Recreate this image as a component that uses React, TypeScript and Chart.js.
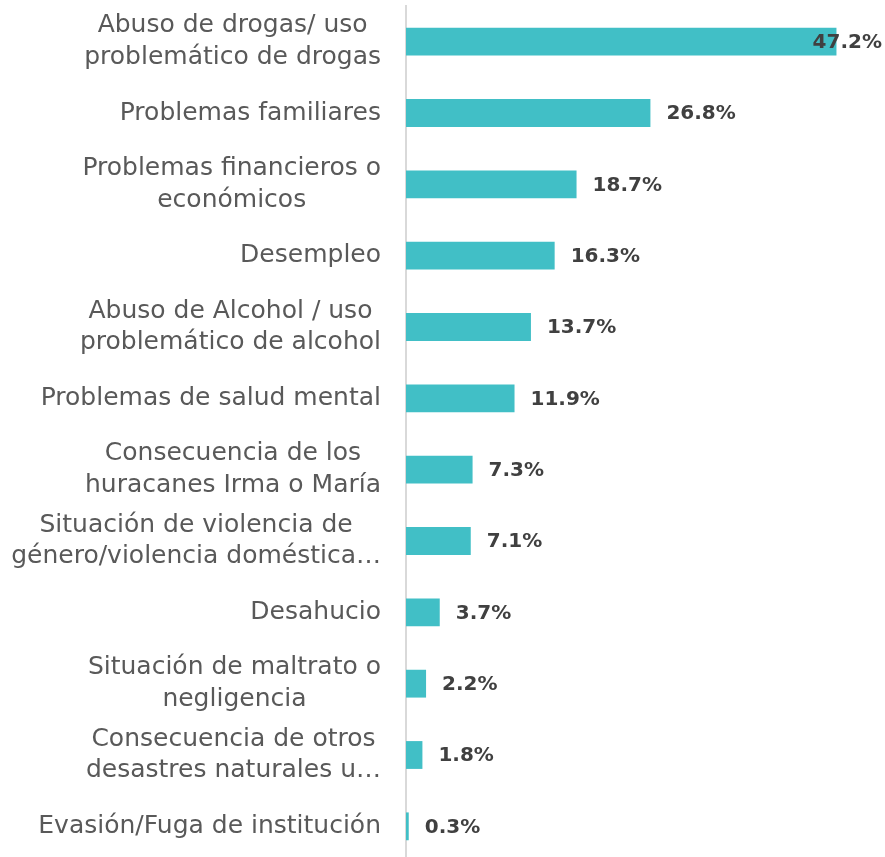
import React, { useEffect, useRef } from "react";
import { Chart, registerables } from "chart.js";

Chart.register(...registerables);

const categories: string[][] = [
  ["Abuso de drogas/ uso", "problemático de drogas"],
  ["Problemas familiares"],
  ["Problemas financieros o", "económicos"],
  ["Desempleo"],
  ["Abuso de Alcohol / uso", "problemático de alcohol"],
  ["Problemas de salud mental"],
  ["Consecuencia de los", "huracanes Irma o María"],
  ["Situación de violencia de", "género/violencia doméstica…"],
  ["Desahucio"],
  ["Situación de maltrato o", "negligencia"],
  ["Consecuencia de otros", "desastres naturales u…"],
  ["Evasión/Fuga de institución"],
];

const values: number[] = [47.2, 26.8, 18.7, 16.3, 13.7, 11.9, 7.3, 7.1, 3.7, 2.2, 1.8, 0.3];

const LABEL_FONT = '25px "DejaVu Sans"';
const VALUE_FONT = 'bold 20px "DejaVu Sans"';

const labelPlugin = {
  id: "customLabels",
  afterDraw(chart: any) {
    const ctx = chart.ctx;
    const yScale = chart.scales.y;
    const area = chart.chartArea;
    ctx.save();
    ctx.font = LABEL_FONT;
    ctx.fillStyle = "#595959";
    ctx.textBaseline = "middle";
    ctx.textAlign = "center";
    const lineH = 31.5;
    categories.forEach((lines, i) => {
      const cy = yScale.getPixelForValue(i);
      const widest = Math.max(...lines.map((l) => ctx.measureText(l).width));
      const right = area.left - 25;
      const cx = right - widest / 2;
      const startY = cy - ((lines.length - 1) * lineH) / 2;
      lines.forEach((l, j) => ctx.fillText(l, cx, startY + j * lineH));
    });
    ctx.font = VALUE_FONT;
    ctx.fillStyle = "#404040";
    ctx.textAlign = "left";
    const meta = chart.getDatasetMeta(0);
    meta.data.forEach((bar: any, i: number) => {
      const txt = values[i].toFixed(1) + "%";
      const w = ctx.measureText(txt).width;
      let x = bar.x + 16;
      if (x + w > chart.width - 3) x = chart.width - 3 - w;
      ctx.fillText(txt, x, bar.y + 1);
    });
    ctx.restore();
  },
};

export default function App() {
  const ref = useRef<HTMLCanvasElement | null>(null);
  useEffect(() => {
    if (!ref.current) return;
    const chart = new Chart(ref.current, {
      type: "bar",
      data: {
        labels: categories.map((c) => c.join(" ")),
        datasets: [
          {
            data: values,
            backgroundColor: "#41BFC6",
            borderWidth: 0,
            barPercentage: 0.39,
            categoryPercentage: 1,
          },
        ],
      },
      options: {
        indexAxis: "y",
        animation: false,
        responsive: false,
        maintainAspectRatio: false,
        layout: { padding: { top: 6, right: 23, left: 0, bottom: 0 } },
        plugins: {
          legend: { display: false },
          tooltip: { enabled: false },
        },
        scales: {
          x: {
            display: false,
            min: 0,
            max: 50,
          },
          y: {
            afterFit: (scale: any) => {
              scale.width = 406;
            },
            grid: { display: true, drawOnChartArea: false, drawTicks: false },
            border: { display: true, color: "#D9D9D9", width: 2 },
            ticks: { display: false },
          },
        },
      },
      plugins: [labelPlugin],
    });
    return () => chart.destroy();
  }, []);
  return (
    <div
      style={{
        position: "fixed",
        left: 0,
        top: 0,
        width: 885,
        height: 857,
        overflow: "hidden",
        background: "#ffffff",
      }}
    >
      <canvas ref={ref} width={885} height={862} style={{ display: "block" }} />
    </div>
  );
}
